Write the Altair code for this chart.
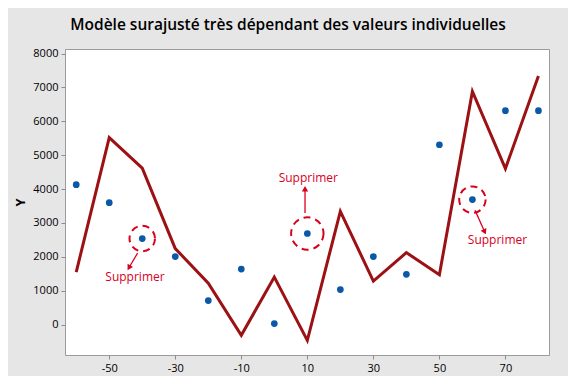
import altair as alt
import pandas as pd
import numpy as np

# Data
x_vals = [-60, -50, -40, -30, -20, -10, 0, 10, 20, 30, 40, 50, 60, 70, 80]
y_obs = [4130, 3600, 2540, 2010, 710, 1640, 30, 2690, 1035, 2010, 1485, 5310, 3690, 6315, 6315]
y_fit = [1550, 5520, 4620, 2245, 1225, -315, 1405, -465, 3345, 1285, 2125, 1475, 6885, 4605, 7340]

x_ticks = [-50, -30, -10, 10, 30, 50, 70]
y_ticks = [0, 1000, 2000, 3000, 4000, 5000, 6000, 7000, 8000]

# Annotations (data coordinates)
circ_x = [-40, 10, 60]
circ_y = [2540, 2690, 3690]
circ_size = [650, 1050, 700]
arr_x1 = [-41.4, 9.3, 60.8]
arr_y1 = [2113, 3294, 3374]
arr_x2 = [-43.9, 9.3, 63.6]
arr_y2 = [1700, 3985, 2763]
lab_x = [-42.2, 10.3, 67.6]
lab_y = [1396, 4339, 2509]
lab_text = ["Supprimer", "Supprimer", "Supprimer"]

df = pd.DataFrame({"x": x_vals, "y": y_obs, "fit": y_fit})
circ = pd.DataFrame({"x": circ_x, "y": circ_y, "s": circ_size})
arr = pd.DataFrame({"x1": arr_x1, "y1": arr_y1, "x2": arr_x2, "y2": arr_y2})
# arrowhead angles (pixel space: sx px/unit x, sy px/unit y)
sx, sy = 3.3, 0.03388
dxp = (arr["x2"] - arr["x1"]) * sx
dyp = -(arr["y2"] - arr["y1"]) * sy
arr["ang"] = (np.degrees(np.arctan2(dxp, -dyp)) + 360) % 360
labs = pd.DataFrame({"x": lab_x, "y": lab_y, "t": lab_text})

xdom = [-63.4, 83.2]
ydom = [-897, 8136]
FONT = "Open Sans"
RED = "#D8001C"

xs = alt.Scale(domain=xdom, nice=False, zero=False)
ys = alt.Scale(domain=ydom, nice=False, zero=False)

x_axis = alt.Axis(values=x_ticks, grid=False, domain=False, tickColor="#8C8C8C",
                  tickSize=4, labelColor="#000000", labelFontSize=11, labelFont=FONT,
                  labelPadding=3, labelExpr="'' + datum.value", labelOverlap=False)
y_axis = alt.Axis(values=y_ticks, grid=False, domain=False, tickColor="#8C8C8C",
                  tickSize=4, labelColor="#000000", labelFontSize=11, labelFont=FONT,
                  labelPadding=3, labelExpr="'' + datum.value", labelOverlap=False,
                  titleFont=FONT, titleFontSize=13, titleFontWeight="bold",
                  titleColor="#000000", titleX=-45, titleY=153, titleAngle=-90,
                  titleAlign="center", titleBaseline="middle")

X = lambda f: alt.X(f, scale=xs, title=None, axis=x_axis)
Y = lambda f: alt.Y(f, scale=ys, title="Y", axis=y_axis)

line = alt.Chart(df).mark_line(color="#9B1114", strokeWidth=3).encode(
    x=X("x:Q"), y=Y("fit:Q"))

pts = alt.Chart(df).mark_circle(color="#0A58A8", opacity=1, size=45).encode(
    x=X("x:Q"), y=Y("y:Q"))

circles = alt.Chart(circ).mark_point(shape="circle", color=RED, strokeWidth=2,
                                     strokeDash=[7, 5], filled=False, opacity=1).encode(
    x=X("x:Q"), y=Y("y:Q"), size=alt.Size("s:Q", scale=None, legend=None))

rules = alt.Chart(arr).mark_rule(color=RED, strokeWidth=1.3).encode(
    x=X("x1:Q"), y=Y("y1:Q"), x2="x2:Q", y2="y2:Q")

heads = alt.Chart(arr).mark_point(shape="triangle", color=RED, filled=True, size=40, opacity=1).encode(
    x=X("x2:Q"), y=Y("y2:Q"), angle=alt.Angle("ang:Q", scale=None))

texts = alt.Chart(labs).mark_text(color=RED, font=FONT, fontSize=12).encode(
    x=X("x:Q"), y=Y("y:Q"), text="t:N")

chart = alt.layer(line, pts, circles, rules, heads, texts).properties(
    width=484, height=306,
    autosize=alt.AutoSizeParams(type="none"),
    padding={"left": 57, "top": 41, "right": 19, "bottom": 21},
    title=alt.TitleParams("Modèle surajusté très dépendant des valeurs individuelles",
                          font=FONT, fontSize=15.5, fontWeight=600, color="#000000",
                          anchor="middle", dx=-19, offset=14),
    background="#E6E6E6",
).configure_view(fill="white", stroke="#9B9B9B", strokeWidth=1
).configure_axis(labelOverlap=False)

chart.save("out.html", embed_options={"renderer": "svg", "actions": False})
